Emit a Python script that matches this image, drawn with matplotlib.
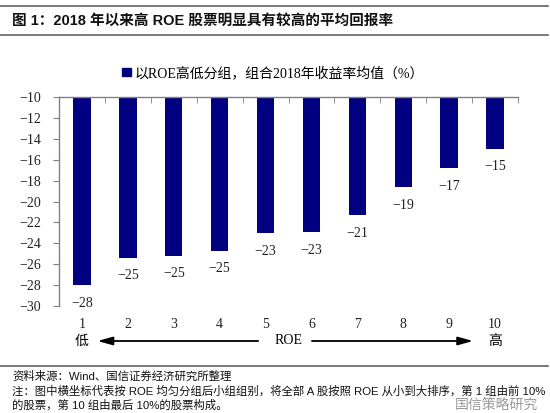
import matplotlib
matplotlib.use("Agg")
import matplotlib.pyplot as plt
from matplotlib.lines import Line2D
from matplotlib.patches import Patch

# data
groups = ["1", "2", "3", "4", "5", "6", "7", "8", "9", "10"]
returns = [-28.0, -25.4, -25.2, -24.7, -23.05, -22.95, -21.3, -18.65, -16.8, -14.95]
yticks = [-10, -12, -14, -16, -18, -20, -22, -24, -26, -28, -30]

title = "图 1：2018 年以来高 ROE 股票明显具有较高的平均回报率"
legend_label = "以ROE高低分组，组合2018年收益率均值（%）"
source = "资料来源：Wind、国信证券经济研究所整理"
note1 = "注：图中横坐标代表按 ROE 均匀分组后小组组别，将全部 A 股按照 ROE 从小到大排序，第 1 组由前 10%"
note2 = "的股票，第 10 组由最后 10%的股票构成。"
watermark = "国信策略研究"

SERIF = ["Liberation Serif", "Noto Sans CJK SC"]
SANS = ["Liberation Sans", "Noto Sans CJK SC"]
BAR = "#000080"
GREY = "#808080"

W, H = 550, 413
fig = plt.figure(figsize=(W / 100, H / 100), dpi=100)
ax = fig.add_axes([59 / W, 1 - 306 / H, 459 / W, 209 / H])

x = list(range(len(groups)))
base = -10
ax.bar(x, [v - base for v in returns], bottom=base, width=0.38, color=BAR)

for xi, v in zip(x, returns):
    ax.annotate(f"{v:.0f}".replace("-", "\u2212"), (xi, v), xytext=(0, -13),
                textcoords="offset points", ha="center", va="center",
                fontsize=10, family=SERIF, color="#222222")

ax.set_xlim(-0.5, len(groups) - 0.5)
ax.set_ylim(-30, -10)
ax.set_yticks(yticks)
ax.set_yticklabels([f"{t}".replace("-", "\u2212") for t in yticks], family=SERIF, fontsize=10)

ax.set_xticks(x)
ax.set_xticklabels(groups, family=SERIF, fontsize=10)
ax.set_xticks([i - 0.5 for i in range(len(groups) + 1)], minor=True)
ax.tick_params(axis="x", which="major", top=False, bottom=True, length=0, pad=9, colors="#222222")
ax.tick_params(axis="x", which="minor", top=True, bottom=False, direction="in", length=4, color=GREY)
ax.tick_params(axis="y", which="major", direction="out", length=4, pad=9, color=GREY,
               labelcolor="#222222")

for s in ("right", "bottom"):
    ax.spines[s].set_visible(False)
for s in ("left", "top"):
    ax.spines[s].set_color(GREY)
    ax.spines[s].set_linewidth(1)

# low <-- ROE --> high row under the axis
tr = ax.get_xaxis_transform()
row_y = -35 / 209
ax.text(0, row_y, "低", transform=tr, ha="center", va="center", fontsize=10, family=SERIF)
ax.text(9, row_y, "高", transform=tr, ha="center", va="center", fontsize=10, family=SERIF)
ax.text(4.5, row_y, "ROE", transform=tr, ha="center", va="center", fontsize=10, family=SERIF)
arrow = dict(arrowstyle="-|>,head_length=0.9,head_width=0.25", color="black", lw=1.3)
ax.annotate("", xy=(0.28, row_y), xytext=(3.9, row_y), xycoords=tr, textcoords=tr,
            arrowprops=arrow, annotation_clip=False)
ax.annotate("", xy=(8.58, row_y), xytext=(4.95, row_y), xycoords=tr, textcoords=tr,
            arrowprops=arrow, annotation_clip=False)

fig.legend(handles=[Patch(color=BAR, label=legend_label)], loc="center",
           bbox_to_anchor=(0.497, 1 - 73 / H), frameon=False, handlelength=0.6,
           handleheight=0.6, handletextpad=0.3, prop={"family": SERIF, "size": 10})

# header and footer
for yy in (6, 35, 366):
    fig.add_artist(Line2D([0, 548 / W], [1 - yy / H] * 2, color="#555555", lw=1.1))
fig.text(12 / W, 1 - 21 / H, title, fontsize=10.5, fontweight="bold", family=SANS,
         va="center", color="#111111")
fig.text(12 / W, 1 - 376 / H, source, fontsize=8.2, family=SANS, va="center", color="#111111")
fig.text(12 / W, 1 - 391 / H, note1, fontsize=8.2, family=SANS, va="center", color="#111111")
fig.text(12 / W, 1 - 405 / H, note2, fontsize=8.2, family=SANS, va="center", color="#111111")
fig.text(455 / W, 1 - 405 / H, watermark, fontsize=10, family=SANS, va="center",
         color="#9a9a9a")

fig.savefig("out.png", dpi=100)
